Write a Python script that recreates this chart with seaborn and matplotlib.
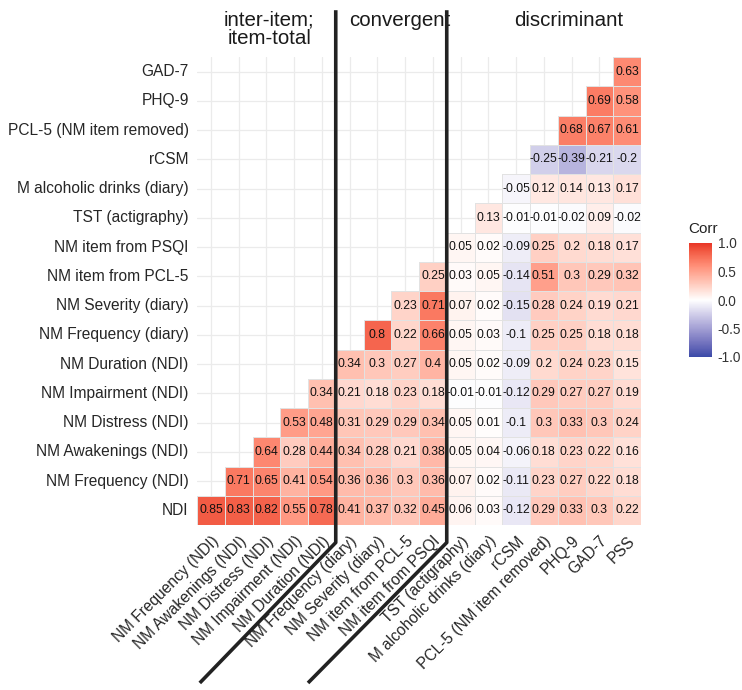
import numpy as np
import pandas as pd
import matplotlib
matplotlib.use("Agg")
import matplotlib.pyplot as plt
from matplotlib.colors import ListedColormap, to_rgba
import seaborn as sns

# ---------------- data ----------------
col_labels = ["NM Frequency (NDI)", "NM Awakenings (NDI)", "NM Distress (NDI)",
              "NM Impairment (NDI)", "NM Duration (NDI)", "NM Frequency (diary)",
              "NM Severity (diary)", "NM item from PCL-5", "NM item from PSQI",
              "TST (actigraphy)", "M alcoholic drinks (diary)", "rCSM",
              "PCL-5 (NM item removed)", "PHQ-9", "GAD-7", "PSS"]
# rows listed bottom -> top
row_labels = ["NDI", "NM Frequency (NDI)", "NM Awakenings (NDI)", "NM Distress (NDI)",
              "NM Impairment (NDI)", "NM Duration (NDI)", "NM Frequency (diary)",
              "NM Severity (diary)", "NM item from PCL-5", "NM item from PSQI",
              "TST (actigraphy)", "M alcoholic drinks (diary)", "rCSM",
              "PCL-5 (NM item removed)", "PHQ-9", "GAD-7"]
# each row's values start at column index == row index
r_ndi = [0.85, 0.83, 0.82, 0.55, 0.78, 0.41, 0.37, 0.32, 0.45, 0.06, 0.03, -0.12, 0.29, 0.33, 0.3, 0.22]
r_nmfreq_ndi = [0.71, 0.65, 0.41, 0.54, 0.36, 0.36, 0.3, 0.36, 0.07, 0.02, -0.11, 0.23, 0.27, 0.22, 0.18]
r_awak = [0.64, 0.28, 0.44, 0.34, 0.28, 0.21, 0.38, 0.05, 0.04, -0.06, 0.18, 0.23, 0.22, 0.16]
r_distress = [0.53, 0.48, 0.31, 0.29, 0.29, 0.34, 0.05, 0.01, -0.1, 0.3, 0.33, 0.3, 0.24]
r_impair = [0.34, 0.21, 0.18, 0.23, 0.18, -0.01, -0.01, -0.12, 0.29, 0.27, 0.27, 0.19]
r_duration = [0.34, 0.3, 0.27, 0.4, 0.05, 0.02, -0.09, 0.2, 0.24, 0.23, 0.15]
r_freq_diary = [0.8, 0.22, 0.66, 0.05, 0.03, -0.1, 0.25, 0.25, 0.18, 0.18]
r_sev_diary = [0.23, 0.71, 0.07, 0.02, -0.15, 0.28, 0.24, 0.19, 0.21]
r_pcl_item = [0.25, 0.03, 0.05, -0.14, 0.51, 0.3, 0.29, 0.32]
r_psqi_item = [0.05, 0.02, -0.09, 0.25, 0.2, 0.18, 0.17]
r_tst = [0.13, -0.01, -0.01, -0.02, 0.09, -0.02]
r_alcohol = [-0.05, 0.12, 0.14, 0.13, 0.17]
r_rcsm = [-0.25, -0.39, -0.21, -0.2]
r_pcl5 = [0.68, 0.67, 0.61]
r_phq = [0.69, 0.58]
r_gad = [0.63]
rows_vals = [r_ndi, r_nmfreq_ndi, r_awak, r_distress, r_impair, r_duration,
             r_freq_diary, r_sev_diary, r_pcl_item, r_psqi_item, r_tst,
             r_alcohol, r_rcsm, r_pcl5, r_phq, r_gad]

group_titles = ["inter-item;\nitem-total", "convergent", "discriminant"]

n = len(col_labels)
mat = np.full((n, n), np.nan)
for i, vals in enumerate(rows_vals):
    mat[i, i:i + len(vals)] = vals
# heatmap draws top->bottom: reverse rows so NDI is at the bottom
df = pd.DataFrame(mat[::-1], index=row_labels[::-1], columns=col_labels)
annot = df.map(lambda v: "" if np.isnan(v) else f"{v:g}")

# ---------------- colormap (Lab interpolation like ggplot gradient2) ----------------
def srgb_to_lab(rgb):
    rgb = np.asarray(rgb, float)
    lin = np.where(rgb <= 0.04045, rgb / 12.92, ((rgb + 0.055) / 1.055) ** 2.4)
    M = np.array([[0.4124, 0.3576, 0.1805], [0.2126, 0.7152, 0.0722], [0.0193, 0.1192, 0.9505]])
    xyz = lin @ M.T / np.array([0.95047, 1.0, 1.08883])
    f = np.where(xyz > 0.008856, np.cbrt(xyz), 7.787 * xyz + 16 / 116)
    return np.stack([116 * f[..., 1] - 16, 500 * (f[..., 0] - f[..., 1]), 200 * (f[..., 1] - f[..., 2])], -1)

def lab_to_srgb(lab):
    L, a, b = lab[..., 0], lab[..., 1], lab[..., 2]
    fy = (L + 16) / 116
    fx = fy + a / 500
    fz = fy - b / 200
    f = np.stack([fx, fy, fz], -1)
    xyz = np.where(f ** 3 > 0.008856, f ** 3, (f - 16 / 116) / 7.787) * np.array([0.95047, 1.0, 1.08883])
    Minv = np.array([[3.2406, -1.5372, -0.4986], [-0.9689, 1.8758, 0.0415], [0.0557, -0.2040, 1.0570]])
    lin = xyz @ Minv.T
    rgb = np.where(lin <= 0.0031308, 12.92 * lin, 1.055 * np.clip(lin, 0, None) ** (1 / 2.4) - 0.055)
    return np.clip(rgb, 0, 1)

low = np.array([58, 74, 168]) / 255
mid = np.array([1.0, 1.0, 1.0])
high = np.array([232, 52, 38]) / 255
lab_low, lab_mid, lab_high = srgb_to_lab(low), srgb_to_lab(mid), srgb_to_lab(high)
t = np.linspace(-1, 1, 256)
labs = np.where(t[:, None] < 0,
                lab_mid + (-t[:, None]) * (lab_low - lab_mid),
                lab_mid + t[:, None] * (lab_high - lab_mid))
cmap = ListedColormap(lab_to_srgb(labs))
cmap.set_bad((1, 1, 1, 0))

# ---------------- figure ----------------
sns.set_theme(style="white")
plt.rcParams["font.family"] = ["Liberation Sans", "DejaVu Sans"]

W, H = 742, 690
fig = plt.figure(figsize=(W / 100, H / 100), dpi=100)
ax = fig.add_axes([197 / W, 1 - 525 / H, 444 / W, 468 / H])
cax = fig.add_axes([689 / W, 1 - 357 / H, 23 / W, 114 / H])

sns.heatmap(df, ax=ax, cmap=cmap, vmin=-1, vmax=1, mask=df.isna(),
            annot=annot, fmt="", annot_kws={"size": 8.8, "color": "#111111"},
            linewidths=0.5, linecolor="#E2E2E2", cbar_ax=cax,
            cbar_kws={"ticks": [-1, -0.5, 0, 0.5, 1]})
# hide the outlines of empty (masked) cells
mesh = ax.collections[0]
edge = np.array([to_rgba("#E2E2E2")] * (n * n))
edge[np.isnan(df.values).ravel()] = (1, 1, 1, 0)
mesh.set_edgecolor(edge)

ax.set_xlim(0, n)
ax.set_ylim(n, 0)
# background grid (theme_minimal style) at category centres
for k in range(n):
    ax.axvline(k + 0.5, color="#EBEBEB", lw=0.9, zorder=0)
    ax.axhline(k + 0.5, color="#EBEBEB", lw=0.9, zorder=0)
ax.set_facecolor("none")
for s in ax.spines.values():
    s.set_visible(False)
ax.set_xlabel("")
ax.set_ylabel("")
ax.tick_params(axis="both", length=3, width=0.6, color="#AAAAAA", pad=3,
               labelsize=11.2, labelcolor="#262626")
ax.set_xticklabels(col_labels, rotation=45, ha="right", rotation_mode="anchor")
ax.set_yticklabels(df.index, rotation=0)

# colorbar styling
cbar = mesh.colorbar
cbar.outline.set_visible(False)
cax.set_yticklabels(["-1.0", "-0.5", "0.0", "0.5", "1.0"])
cax.tick_params(axis="y", length=3, width=0.8, direction="in", color="white",
                labelsize=9.8, labelcolor="#333333", pad=4)
cax.set_title("Corr", loc="left", fontsize=11, color="#222222", pad=7, x=-0.05)

# group separators and titles
line_kw = dict(color="#222222", lw=2.6, clip_on=False, solid_capstyle="butt", zorder=5)
ax.plot([5, 5, 0.1], [-1.6, 16.6, 21.4], **line_kw)
ax.plot([9, 9, 4.0], [-1.6, 16.6, 21.4], **line_kw)
ax.text(2.6, -0.95, group_titles[0], ha="center", va="center", fontsize=14.8,
        color="#1A1A1A", linespacing=0.95)
ax.text(7.3, -1.25, group_titles[1], ha="center", va="center", fontsize=14.8, color="#1A1A1A")
ax.text(13.4, -1.25, group_titles[2], ha="center", va="center", fontsize=14.8, color="#1A1A1A")

fig.savefig("out.png", dpi=100, facecolor="white")
